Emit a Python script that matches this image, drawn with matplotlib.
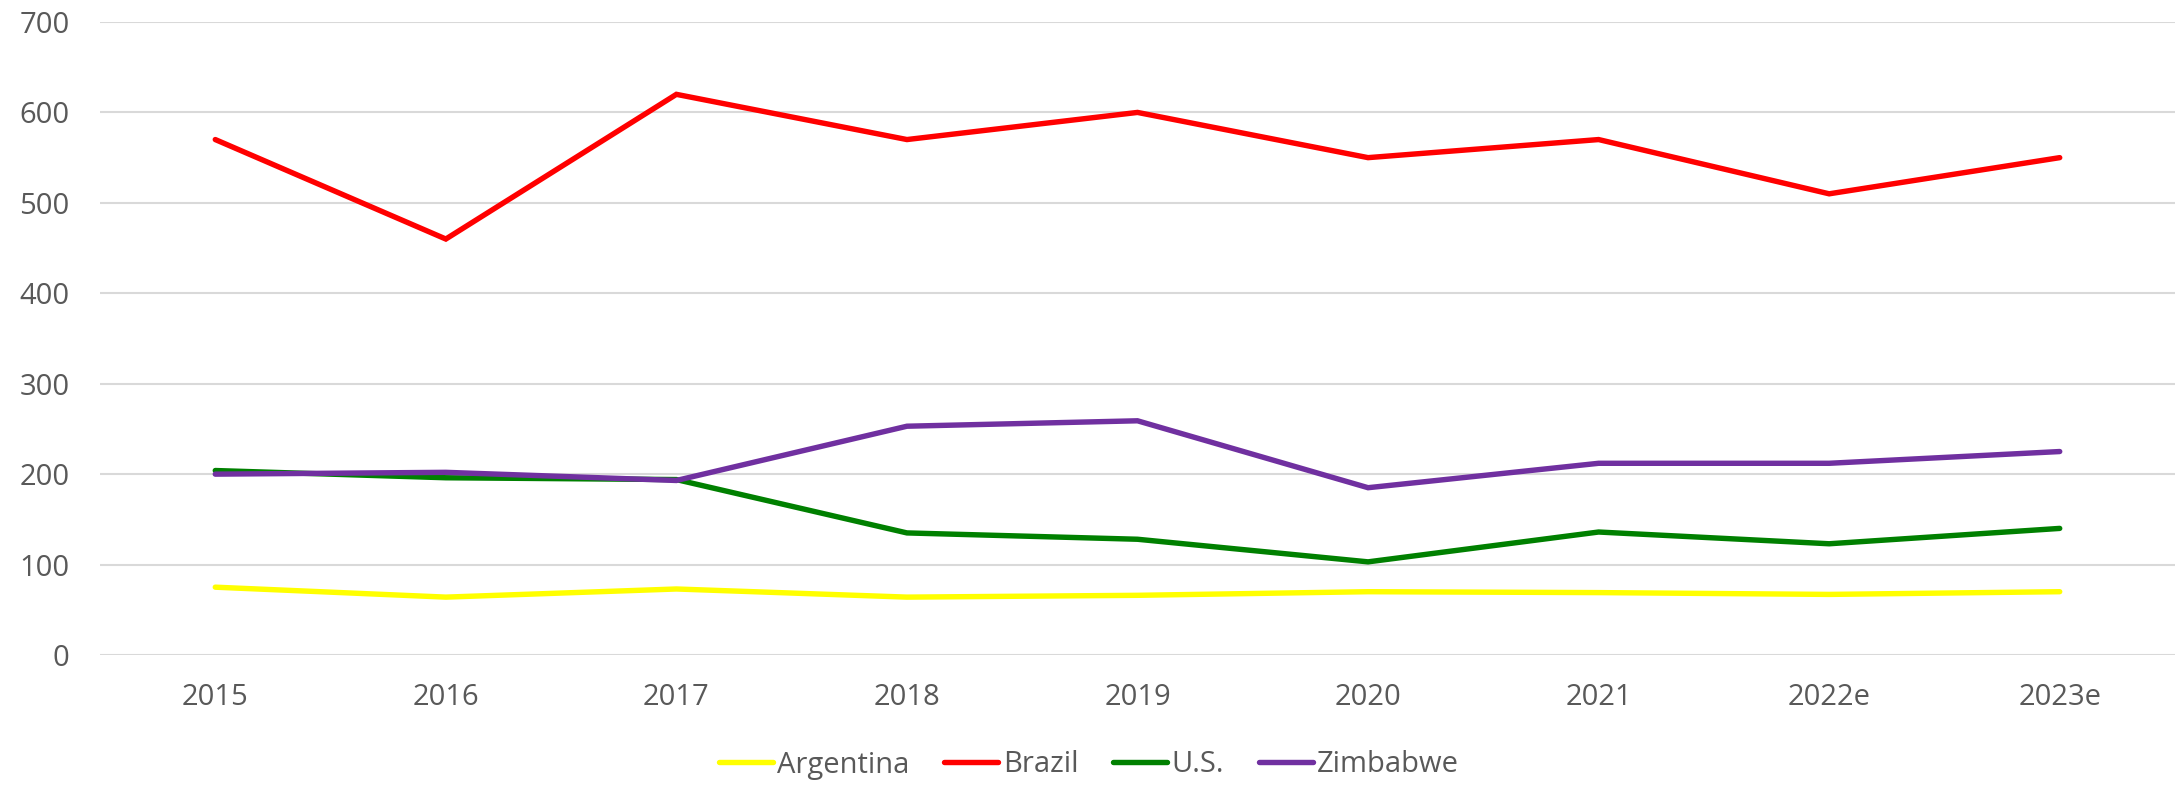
import matplotlib

matplotlib.use("Agg")
import matplotlib.pyplot as plt  # noqa: E402
import numpy as np  # noqa: E402

# Data
years = ["2015", "2016", "2017", "2018", "2019", "2020", "2021", "2022e", "2023e"]
argentina = [75, 64, 73, 64, 66, 70, 69, 67, 70]
brazil = [570, 460, 620, 570, 600, 550, 570, 510, 550]
us = [204, 196, 194, 135, 128, 103, 136, 123, 140]
zimbabwe = [200, 202, 193, 253, 259, 185, 212, 212, 225]

series = [
    ("Argentina", argentina, "#FFFF00"),
    ("Brazil", brazil, "#FF0000"),
    ("U.S.", us, "#008000"),
    ("Zimbabwe", zimbabwe, "#7030A0"),
]

plt.rcParams["font.family"] = ["Open Sans", "DejaVu Sans"]
TEXT = "#595959"
FS = 21

fig = plt.figure(figsize=(21.78, 7.85), dpi=100)
ax = fig.add_axes([100 / 2178, 1 - 655 / 785, 2075 / 2178, (655 - 22) / 785])

x = np.arange(len(years))
for name, vals, color in series:
    ax.plot(x, vals, color=color, linewidth=3.9, label=name,
            solid_capstyle="round", solid_joinstyle="miter", zorder=3)

ax.set_xlim(-0.5, len(years) - 0.5)
ax.set_ylim(0, 700)
ax.set_yticks(range(0, 701, 100))
ax.set_xticks(x)
ax.set_xticklabels(years)
ax.tick_params(axis="both", length=0, labelsize=FS, colors=TEXT)
ax.tick_params(axis="y", pad=22)
ax.tick_params(axis="x", pad=20)
ax.yaxis.grid(True, color="#d9d9d9", linewidth=1.5)
ax.xaxis.grid(False)
ax.set_axisbelow(True)
for s in ax.spines.values():
    s.set_visible(False)

leg = fig.legend(loc="center", bbox_to_anchor=(0.5, 1 - 765 / 785), ncol=4,
                 frameon=False, fontsize=FS, handlelength=1.85,
                 handletextpad=0.15, columnspacing=1.2)
for t in leg.get_texts():
    t.set_color(TEXT)

fig.savefig("out.png", dpi=100)
